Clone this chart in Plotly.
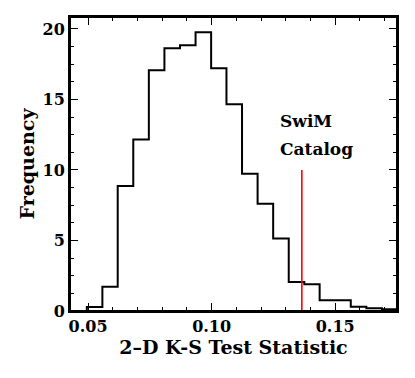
import plotly.graph_objects as go

# histogram of the 2-D K-S statistic (step outline)
bin_edges = [0.0495, 0.0558, 0.0620, 0.0683, 0.0746, 0.0809, 0.0872, 0.0935,
             0.0998, 0.1060, 0.1123, 0.1186, 0.1249, 0.1312, 0.1375, 0.1437,
             0.1500, 0.1563, 0.1626, 0.1689, 0.1752]
counts = [0.28, 1.72, 8.87, 12.17, 17.07, 18.63, 18.84, 19.76, 17.21, 14.66,
          9.74, 7.61, 5.15, 2.05, 1.89, 0.77, 0.77, 0.31, 0.20, 0.13]

swim_value = 0.1365
swim_height = 10
swim_label = ["SwiM", "Catalog"]

FONT = "DejaVu Serif"

fig = go.Figure()

step_x = [bin_edges[0]] + bin_edges
step_y = [0] + counts + [0]
fig.add_trace(go.Scatter(
    x=step_x, y=step_y, mode="lines",
    line=dict(shape="hv", color="black", width=2),
    showlegend=False, hoverinfo="skip",
))

fig.add_trace(go.Scatter(
    x=[swim_value, swim_value], y=[0, swim_height], mode="lines",
    line=dict(color="red", width=1.6),
    showlegend=False, hoverinfo="skip",
))

fig.add_annotation(x=0.1267, y=13.5, text="<b>%s</b>" % swim_label[0],
                   showarrow=False, xanchor="left", yanchor="middle",
                   font=dict(family=FONT, size=17, color="black"))
fig.add_annotation(x=0.1267, y=11.5, text="<b>%s</b>" % swim_label[1],
                   showarrow=False, xanchor="left", yanchor="middle",
                   font=dict(family=FONT, size=17, color="black"))

# frame around the plot area
fig.add_shape(type="rect", xref="x domain", yref="y domain",
              x0=0, x1=1, y0=0, y1=1, line=dict(color="black", width=2))

# page body adds 8px margin, so the figure is 8px smaller on each side
fig.update_layout(
    width=407, height=370,
    margin=dict(l=62, r=18, t=9, b=67),
    plot_bgcolor="white", paper_bgcolor="white",
    font=dict(family=FONT, size=16, color="black"),
)

fig.update_xaxes(
    range=[0.0427, 0.175],
    tickvals=[0.05, 0.10, 0.15], ticktext=["<b>0.05</b>", "<b>0.10</b>", "<b>0.15</b>"],
    ticks="inside", ticklen=8, tickwidth=1.3, tickcolor="black",
    minor=dict(dtick=0.01, tick0=0.05, ticks="inside", ticklen=4, tickwidth=1.3, tickcolor="black"),
    showline=True, linecolor="black", linewidth=2, mirror="allticks",
    showgrid=False, zeroline=False,
    title=dict(text="<b>2–D K-S Test Statistic</b>", standoff=4),
    automargin=False,
)
fig.update_yaxes(
    range=[0, 20.85],
    tickvals=[0, 5, 10, 15, 20], ticktext=["<b>0</b>", "<b>5</b>", "<b>10</b>", "<b>15</b>", "<b>20</b>"],
    ticks="inside", ticklen=8, tickwidth=1.3, tickcolor="black",
    minor=dict(dtick=1.25, tick0=0, ticks="inside", ticklen=4, tickwidth=1.3, tickcolor="black"),
    showline=True, linecolor="black", linewidth=2, mirror="allticks",
    showgrid=False, zeroline=False,
    title=dict(text="<b>Frequency</b>", standoff=3),
    automargin=False,
)

fig.write_html("out.html")
